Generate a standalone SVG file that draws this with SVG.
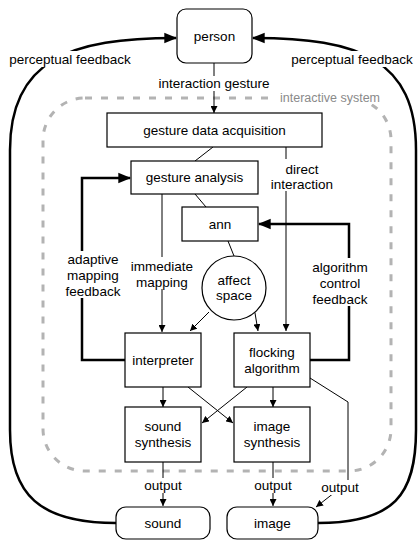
<svg xmlns="http://www.w3.org/2000/svg" width="419" height="544" viewBox="0 0 419 544">
<defs>
<marker id="a" viewBox="0 0 10 10" refX="10" refY="5" markerWidth="7" markerHeight="7" markerUnits="userSpaceOnUse" orient="auto"><path d="M0,0 L10,5 L0,10 z" fill="#000"/></marker>
<marker id="b" viewBox="0 0 10 10" refX="9" refY="5" markerWidth="13" markerHeight="13" markerUnits="userSpaceOnUse" orient="auto"><path d="M0,1 L10,5 L0,9 z" fill="#000"/></marker>
</defs>
<style>
text{font-family:"Liberation Sans",Arial,sans-serif;font-size:13.5px;fill:#000;text-anchor:middle}
.box{fill:#fff;stroke:#000;stroke-width:1.2}
.ln{fill:none;stroke:#000;stroke-width:1}
.th{fill:none;stroke:#000;stroke-width:2.5}
.bg{fill:#fff}
</style>
<rect x="43" y="98" width="348" height="373" rx="42" fill="none" stroke="#b3b3b3" stroke-width="3" stroke-dasharray="7 9"/>
<rect class="bg" x="275" y="90" width="110" height="14"/>
<text x="330" y="102" style="fill:#8a8a8a;font-size:12.5px">interactive system</text>
<g id="connectors">
<path class="th" d="M116,523 C40,523 10,495 10,430 L10,150 C10,60 70,38 176,38" marker-end="url(#b)"/>
<path class="th" d="M318,523 C394,523 416,495 416,430 L416,150 C416,60 360,38 253,38" marker-end="url(#b)"/>
<path class="ln" d="M214,63 L214,113" marker-end="url(#a)"/>
<path class="ln" d="M213,147 L195,161"/>
<path class="ln" d="M286,147 L286,331" marker-end="url(#a)"/>
<path class="ln" d="M195,194 L206,207"/>
<path class="ln" d="M162,194 L162,332" marker-end="url(#a)"/>
<path class="ln" d="M228,241 L234,256"/>
<path class="ln" d="M209,312 L190,331" marker-end="url(#a)"/>
<path class="ln" d="M255,313 L258,331" marker-end="url(#a)"/>
<path class="th" d="M310,360 L349,360 L349,224 L259,224" marker-end="url(#b)"/>
<path class="th" d="M125,360 L82,360 L82,178 L130,178" marker-end="url(#b)"/>
<path class="ln" d="M163,387 L163,407" marker-end="url(#a)"/>
<path class="ln" d="M273,387 L273,407" marker-end="url(#a)"/>
<path class="ln" d="M188,387 L233,423" marker-end="url(#a)"/>
<path class="ln" d="M247,387 L202,423" marker-end="url(#a)"/>
<path class="ln" d="M310,378 L348,402 L348,482 L316,507" marker-end="url(#a)"/>
<path class="ln" d="M163,462 L163,506" marker-end="url(#a)"/>
<path class="ln" d="M273,462 L273,506" marker-end="url(#a)"/>
</g>
<g id="labels">
<rect class="bg" x="6" y="51" width="128" height="16"/>
<text x="70" y="64">perceptual feedback</text>
<rect class="bg" x="288" y="51" width="128" height="16"/>
<text x="352" y="64">perceptual feedback</text>
<rect class="bg" x="155" y="76" width="118" height="15"/>
<text x="214" y="88">interaction gesture</text>
<rect class="bg" x="268" y="159" width="68" height="32"/>
<text x="302" y="174">direct</text>
<text x="302" y="189">interaction</text>
<rect class="bg" x="58" y="251" width="70" height="47"/>
<text x="93" y="264">adaptive</text>
<text x="93" y="280">mapping</text>
<text x="93" y="296">feedback</text>
<rect class="bg" x="126" y="257" width="72" height="32"/>
<text x="162" y="271">immediate</text>
<text x="162" y="287">mapping</text>
<rect class="bg" x="308" y="258" width="66" height="48"/>
<text x="340" y="272">algorithm</text>
<text x="340" y="288">control</text>
<text x="340" y="304">feedback</text>
<rect class="bg" x="141" y="478" width="44" height="15"/>
<text x="163" y="490">output</text>
<rect class="bg" x="251" y="478" width="44" height="15"/>
<text x="273" y="490">output</text>
<rect class="bg" x="318" y="480" width="44" height="15"/>
<text x="340" y="492">output</text>
</g>
<g id="person"><rect class="box" x="177" y="9" width="75" height="54" rx="9"/><text x="214.5" y="41">person</text></g>
<g id="gda"><rect class="box" x="107" y="113" width="215" height="34"/><text x="214.5" y="135">gesture data acquisition</text></g>
<g id="ga"><rect class="box" x="131" y="161" width="127" height="33"/><text x="194.5" y="182">gesture analysis</text></g>
<g id="ann"><rect class="box" x="182" y="207" width="76" height="34"/><text x="220" y="229">ann</text></g>
<g id="affect"><circle class="box" cx="234" cy="288" r="32"/><text x="234" y="285">affect</text><text x="234" y="300">space</text></g>
<g id="interpreter"><rect class="box" x="125" y="333" width="76" height="54"/><text x="163" y="365">interpreter</text></g>
<g id="flocking"><rect class="box" x="234" y="333" width="76" height="54"/><text x="272" y="357">flocking</text><text x="272" y="373">algorithm</text></g>
<g id="soundsynth"><rect class="box" x="125" y="407" width="76" height="55"/><text x="163" y="431">sound</text><text x="163" y="447">synthesis</text></g>
<g id="imagesynth"><rect class="box" x="234" y="407" width="76" height="55"/><text x="272" y="431">image</text><text x="272" y="447">synthesis</text></g>
<g id="sound"><rect class="box" x="116" y="507" width="94" height="32" rx="10"/><text x="163" y="528">sound</text></g>
<g id="image"><rect class="box" x="227" y="507" width="91" height="32" rx="10"/><text x="272.5" y="528">image</text></g>
</svg>
